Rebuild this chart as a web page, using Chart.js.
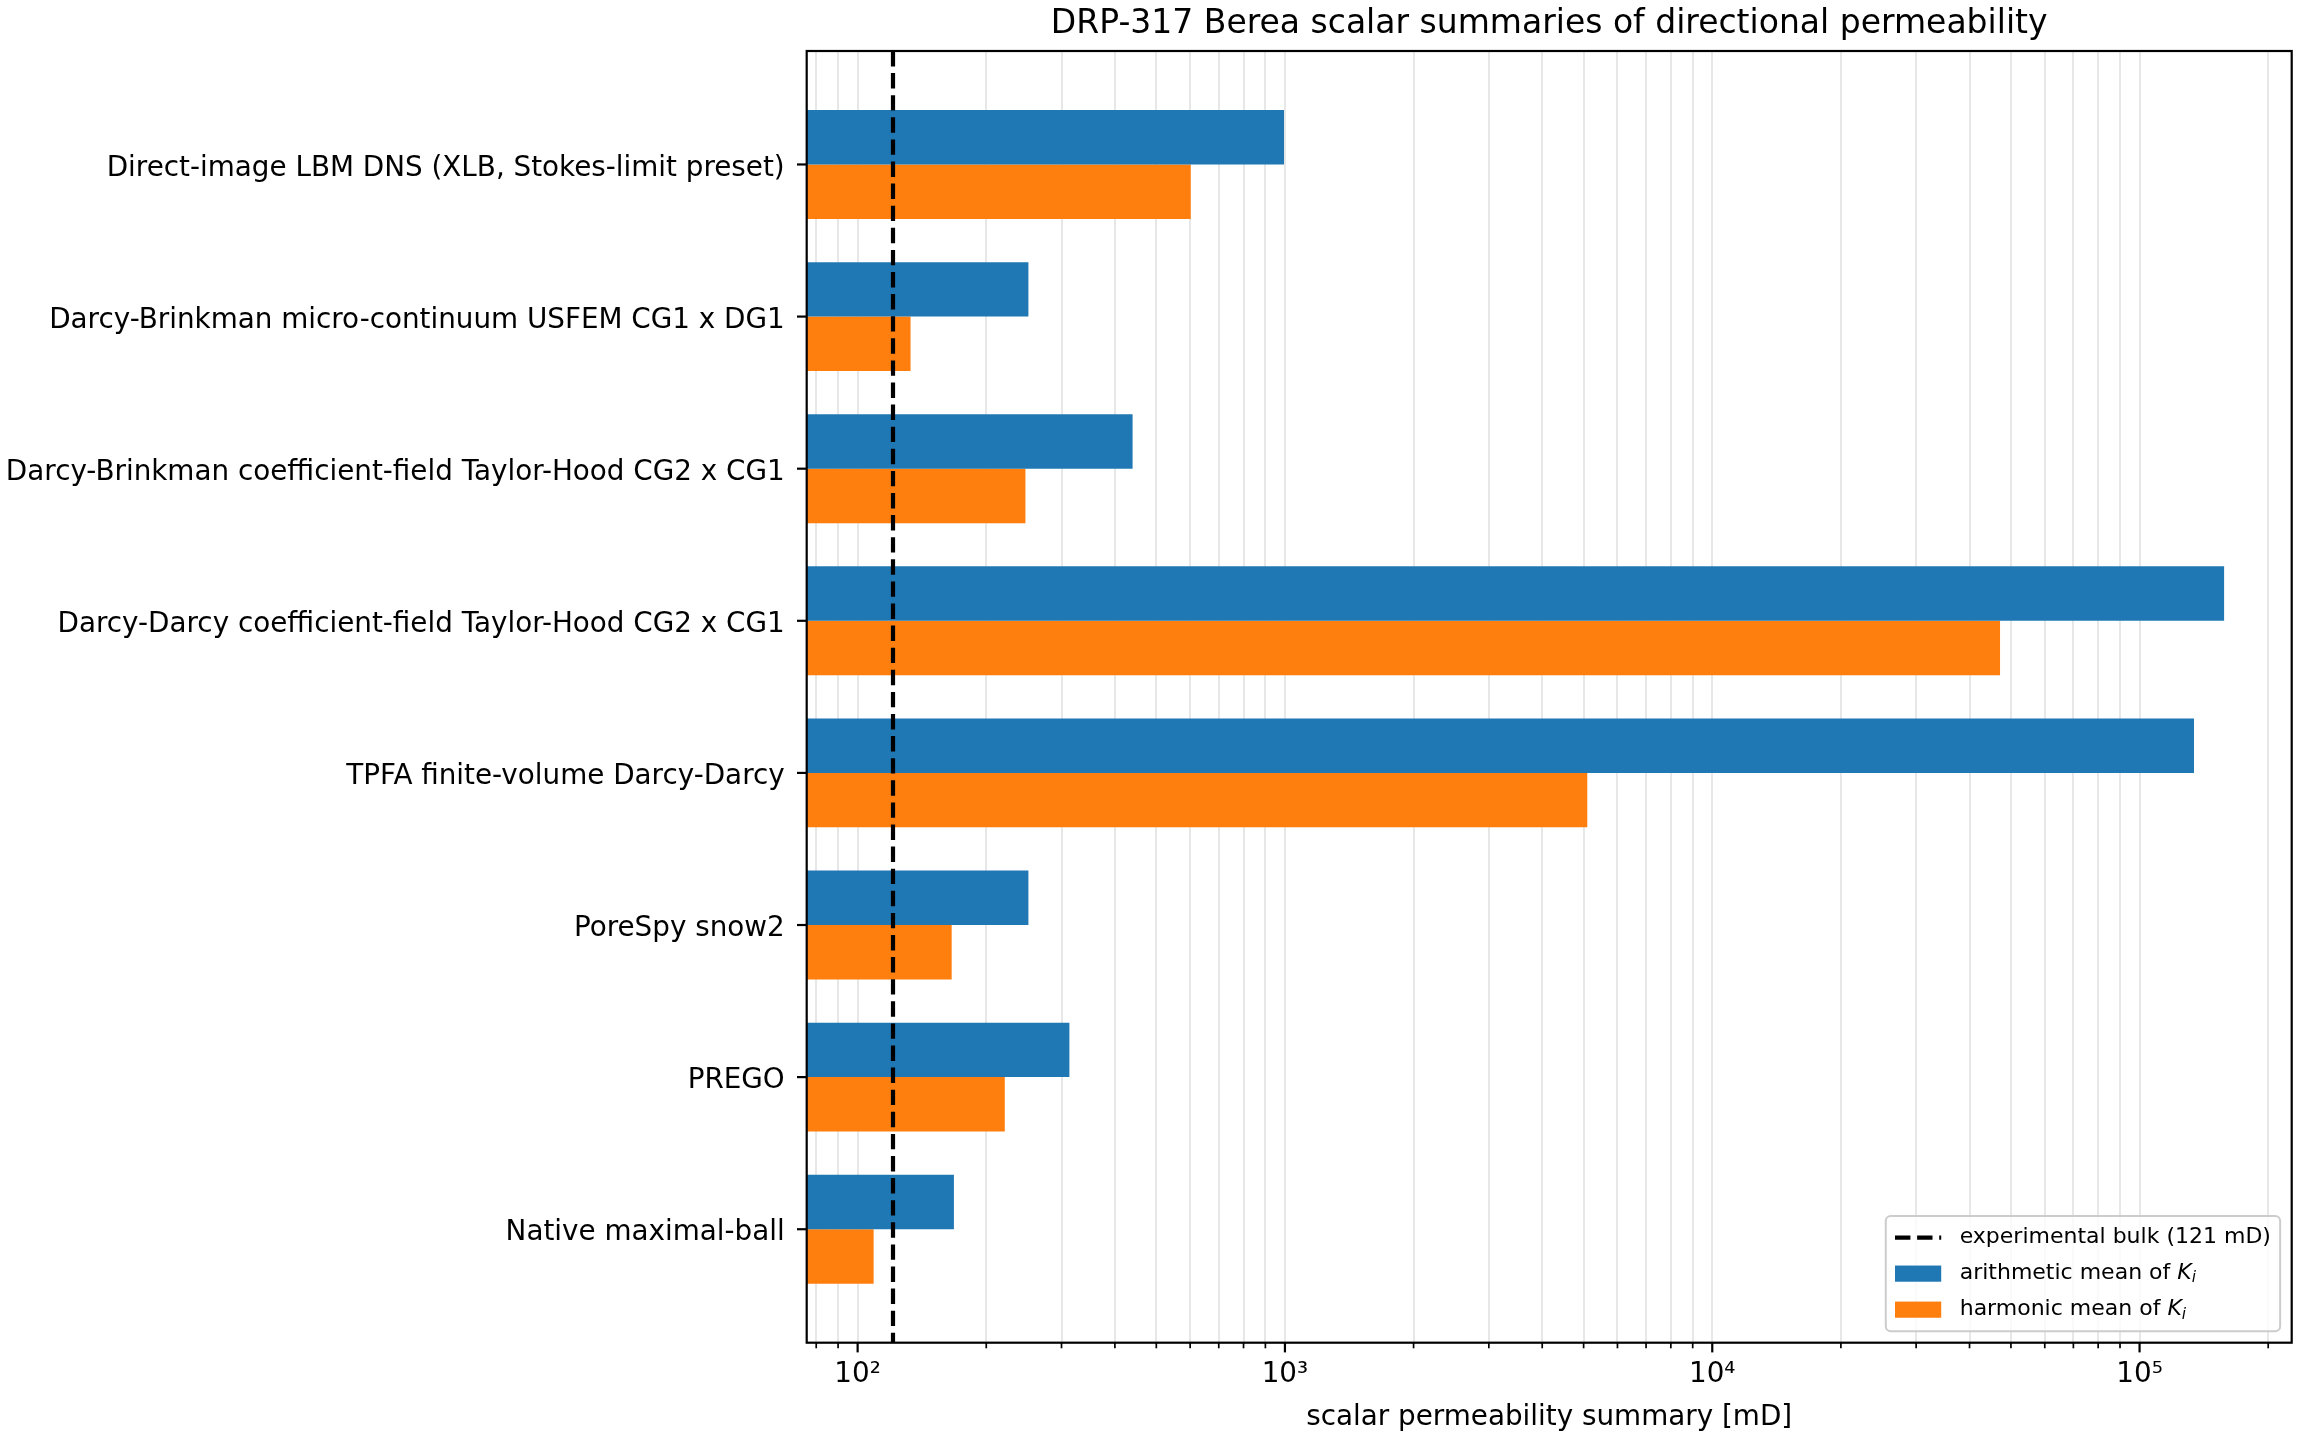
<!DOCTYPE html>
<html>
<head>
<meta charset="utf-8">
<script src="https://cdn.jsdelivr.net/npm/chart.js@4.4.0/dist/chart.umd.min.js"></script>
<style>
  html, body { margin: 0; padding: 0; background: #fff; }
  #wrap { width: 2300px; height: 1440px; position: relative; }
</style>
</head>
<body>
<div id="wrap"><canvas id="chart" width="2300" height="1440"></canvas></div>
<script>
// values (mD)
const methods = [
    'Direct-image LBM DNS (XLB, Stokes-limit preset)',
    'Darcy-Brinkman micro-continuum USFEM CG1 x DG1',
    'Darcy-Brinkman coefficient-field Taylor-Hood CG2 x CG1',
    'Darcy-Darcy coefficient-field Taylor-Hood CG2 x CG1',
    'TPFA finite-volume Darcy-Darcy',
    'PoreSpy snow2',
    'PREGO',
    'Native maximal-ball'
];
const arithmeticMean = [995, 251, 440, 157700, 134100, 251, 313, 168];
const harmonicMean = [602, 133, 247, 47150, 5100, 166, 221, 109];
const experimentalBulk = 121;

const seriesNames = ['arithmetic mean of ', 'harmonic mean of '];
const benchmarkName = 'experimental bulk (121 mD)';
const decadeTicks = [100, 1000, 10000, 100000];
const decadeLabels = ['10²', '10³', '10⁴', '10⁵'];

const xMin = 76, xMax = 227000;
const yPad = 0.746;

const BLUE = '#1f77b4', ORANGE = '#ff7f0e';
const FONT = '"DejaVu Sans"';
const dash = [15.4, 6.7];

Chart.defaults.font.family = FONT;
Chart.defaults.color = '#000';

// spines, tick marks and the legend in matplotlib style
const frameAndLegend = {
    id: 'frameAndLegend',
    afterDraw(chart) {
        const { ctx, chartArea: ca, scales: { x, y } } = chart;
        ctx.save();

        // tick marks
        ctx.strokeStyle = '#000';
        x.ticks.forEach(t => {
            const px = x.getPixelForValue(t.value);
            const major = decadeTicks.includes(t.value);
            ctx.lineWidth = major ? 2.2 : 1.7;
            ctx.beginPath();
            ctx.moveTo(px, ca.bottom);
            ctx.lineTo(px, ca.bottom + (major ? 9.7 : 5.6));
            ctx.stroke();
        });
        ctx.lineWidth = 2.2;
        methods.forEach((m, i) => {
            const py = y.getPixelForValue(i);
            ctx.beginPath();
            ctx.moveTo(ca.left, py);
            ctx.lineTo(ca.left - 9.7, py);
            ctx.stroke();
        });

        // spines
        ctx.strokeRect(ca.left, ca.top, ca.right - ca.left, ca.bottom - ca.top);

        // legend, lower right
        const fs = 23.1, tfs = 22;
        const pad = 0.4 * fs, handleLen = 2 * fs, handlePad = 0.8 * fs;
        const labelSp = 0.5 * fs, rowH = 1.06 * fs, axPad = 0.5 * fs;
        const normal = `${tfs}px ${FONT}`;
        const italic = `italic ${tfs}px ${FONT}`;
        const sub = `italic ${tfs * 0.7}px ${FONT}`;
        const ds = chart.data.datasets;
        const items = [
            { kind: 'line', parts: [{ t: benchmarkName, f: normal, dy: 0 }] },
            { kind: 'box', color: ds[0].backgroundColor, parts: [{ t: seriesNames[0], f: normal, dy: 0 }, { t: 'K', f: italic, dy: 0 }, { t: 'i', f: sub, dy: 0.22 * tfs }] },
            { kind: 'box', color: ds[1].backgroundColor, parts: [{ t: seriesNames[1], f: normal, dy: 0 }, { t: 'K', f: italic, dy: 0 }, { t: 'i', f: sub, dy: 0.22 * tfs }] }
        ];
        let textW = 0;
        items.forEach(it => {
            let w = 0;
            it.parts.forEach(p => { ctx.font = p.f; p.w = ctx.measureText(p.t).width; w += p.w; });
            textW = Math.max(textW, w);
        });
        const w = 2 * pad + handleLen + handlePad + textW;
        const h = 2 * pad + items.length * rowH + (items.length - 1) * labelSp;
        const x0 = ca.right - axPad - w, y0 = ca.bottom - axPad - h;
        ctx.beginPath();
        ctx.roundRect(x0, y0, w, h, 5);
        ctx.fillStyle = 'rgba(255,255,255,0.8)';
        ctx.fill();
        ctx.strokeStyle = '#cccccc';
        ctx.lineWidth = 2;
        ctx.stroke();

        items.forEach((it, i) => {
            const cy = y0 + pad + rowH / 2 + i * (rowH + labelSp);
            const hx = x0 + pad;
            if (it.kind === 'line') {
                ctx.strokeStyle = '#000';
                ctx.lineWidth = 4.2;
                ctx.setLineDash(dash);
                ctx.beginPath();
                ctx.moveTo(hx, cy);
                ctx.lineTo(hx + handleLen, cy);
                ctx.stroke();
                ctx.setLineDash([]);
            } else {
                ctx.fillStyle = it.color;
                ctx.fillRect(hx, cy - 0.35 * fs, handleLen, 0.7 * fs);
            }
            let tx = hx + handleLen + handlePad;
            ctx.fillStyle = '#000';
            ctx.textBaseline = 'middle';
            ctx.textAlign = 'left';
            it.parts.forEach(p => {
                ctx.font = p.f;
                ctx.fillText(p.t, tx, cy + p.dy);
                tx += p.w;
            });
        });
        ctx.restore();
    }
};

const ctx = document.getElementById('chart').getContext('2d');
new Chart(ctx, {
    type: 'bar',
    data: {
        datasets: [
            {
                label: seriesNames[0] + 'K_i',
                data: arithmeticMean.map((v, i) => ({ x: v, y: i })),
                backgroundColor: BLUE,
                order: 1
            },
            {
                label: seriesNames[1] + 'K_i',
                data: harmonicMean.map((v, i) => ({ x: v, y: i })),
                backgroundColor: ORANGE,
                order: 1
            },
            {
                type: 'line',
                label: benchmarkName,
                data: [{ x: experimentalBulk, y: -yPad }, { x: experimentalBulk, y: methods.length - 1 + yPad }],
                borderColor: '#000',
                borderWidth: 4.2,
                borderDash: dash,
                pointRadius: 0,
                fill: false,
                order: 0
            }
        ]
    },
    options: {
        indexAxis: 'y',
        responsive: false,
        animation: false,
        devicePixelRatio: 1,
        categoryPercentage: 0.716,
        barPercentage: 1,
        layout: { padding: { left: 0, right: 8.3, top: 0, bottom: 0 } },
        plugins: {
            legend: { display: false },
            tooltip: { enabled: false },
            title: {
                display: true,
                fullSize: false,
                text: 'DRP-317 Berea scalar summaries of directional permeability',
                font: { size: 33, weight: 'normal', lineHeight: 1.2 },
                color: '#000',
                padding: { top: 5, bottom: 6.4 }
            }
        },
        scales: {
            x: {
                type: 'logarithmic',
                min: xMin,
                max: xMax,
                z: 1,
                afterBuildTicks: (scale) => {
                    const ticks = [];
                    for (let e = 1; e <= 5; e++) {
                        for (let m = 1; m <= 9; m++) {
                            const v = m * Math.pow(10, e);
                            if (v >= xMin && v <= xMax) ticks.push({ value: v });
                        }
                    }
                    scale.ticks = ticks;
                },
                afterFit: (scale) => { scale.height = 97.3; },
                grid: { color: 'rgba(176,176,176,0.3)', lineWidth: 2, drawTicks: false },
                border: { display: false },
                ticks: {
                    autoSkip: false,
                    maxRotation: 0,
                    padding: 15,
                    font: { size: 27.8 },
                    callback: (v) => {
                        const k = decadeTicks.indexOf(v);
                        return k >= 0 ? decadeLabels[k] : '';
                    }
                },
                title: {
                    display: true,
                    text: 'scalar permeability summary [mD]',
                    font: { size: 27.8 },
                    padding: { top: 0, bottom: 6 }
                }
            },
            y: {
                type: 'linear',
                reverse: true,
                offset: false,
                min: -yPad,
                max: methods.length - 1 + yPad,
                afterBuildTicks: (scale) => {
                    scale.ticks = methods.map((m, i) => ({ value: i }));
                },
                afterFit: (scale) => { scale.width = 806.7; },
                grid: { display: false, drawTicks: false },
                border: { display: false },
                ticks: {
                    autoSkip: false,
                    padding: 22,
                    labelOffset: 4,
                    font: { size: 27.8 },
                    callback: (v) => methods[v]
                }
            }
        }
    },
    plugins: [frameAndLegend]
});
</script>
</body>
</html>
